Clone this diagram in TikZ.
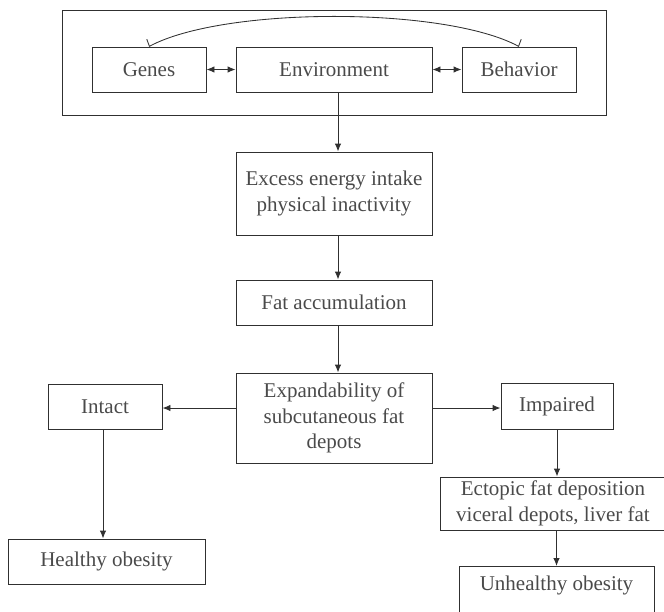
\documentclass[tikz,border=0pt]{standalone}
\usepackage{fontspec}
\setmainfont{Liberation Serif}
\usetikzlibrary{arrows.meta}
\definecolor{linec}{HTML}{303030}
\definecolor{textc}{HTML}{4a4a4a}
\begin{document}
\begin{tikzpicture}[x=1pt,y=-1pt,
  box/.style={draw=linec, line width=0.95pt, rectangle, inner sep=0pt, align=center,
    text=textc, font=\fontsize{21}{25.5}\selectfont},
  arr/.style={draw=linec, line width=0.95pt, -{Latex[length=8pt,width=6.5pt]}},
  darr/.style={draw=linec, line width=0.95pt, {Latex[length=8pt,width=6.5pt]}-{Latex[length=8pt,width=6.5pt]}}]
\useasboundingbox (0,0) rectangle (664,611);
\clip (0,0) rectangle (664,611);
\node[box, minimum width=544, minimum height=105] (frame) at (334,62.5) {};
\node[box, minimum width=114, minimum height=45] (genes) at (149,69.5) {Genes};
\node[box, minimum width=196, minimum height=45] (env) at (334,69.5) {Environment};
\node[box, minimum width=114, minimum height=45] (behav) at (519,69.5) {Behavior};
\node[box, minimum width=196, minimum height=83] (excess) at (334,193.5) {Excess energy intake\\physical inactivity};
\node[box, minimum width=196, minimum height=45] (fat) at (334,302.5) {Fat accumulation};
\node[box, minimum width=196, minimum height=90] (expand) at (334,418) {Expandability of\\subcutaneous fat\\depots};
\node[box, minimum width=114, minimum height=45] (intact) at (105,406.5) {Intact};
\node[box, minimum width=112, minimum height=46] (impaired) at (557,406) {Impaired};
\node[box, minimum width=197, minimum height=45] (healthy) at (106.5,561.5) {Healthy obesity};
\node[box, minimum width=226, minimum height=53] (ectopic) at (553,503.5) {Ectopic fat deposition\\viceral depots, liver fat};
\node[box, minimum width=195, minimum height=60, text depth=27pt, anchor=north] (unh) at (556.5,566) {Unhealthy obesity};
% connectors
\draw[line width=0.85pt, draw=linec, {Straight Barb[harpoon,swap,length=1pt,width=15pt]}-{Straight Barb[harpoon,length=1pt,width=15pt]}]
  (genes.north) .. controls +(75,-40) and +(-75,-40) .. (behav.north);
\draw[darr] (genes.east) -- (env.west);
\draw[darr] (env.east) -- (behav.west);
\draw[arr] ([xshift=4pt]env.south) -- ([xshift=4pt]excess.north);
\draw[arr] ([xshift=4pt]excess.south) -- ([xshift=4pt]fat.north);
\draw[arr] ([xshift=4pt]fat.south) -- ([xshift=4pt]expand.north);
\draw[arr] (expand.west |- 0,408) -- (intact.east |- 0,408);
\draw[arr] (expand.east |- 0,408) -- (impaired.west |- 0,408);
\draw[arr] ([xshift=-2pt]intact.south) -- ([xshift=-2pt]intact.south |- healthy.north);
\draw[arr] (impaired.south) -- (impaired.south |- ectopic.north);
\draw[arr] (unh.north |- ectopic.south) -- (unh.north);
\end{tikzpicture}
\end{document}
